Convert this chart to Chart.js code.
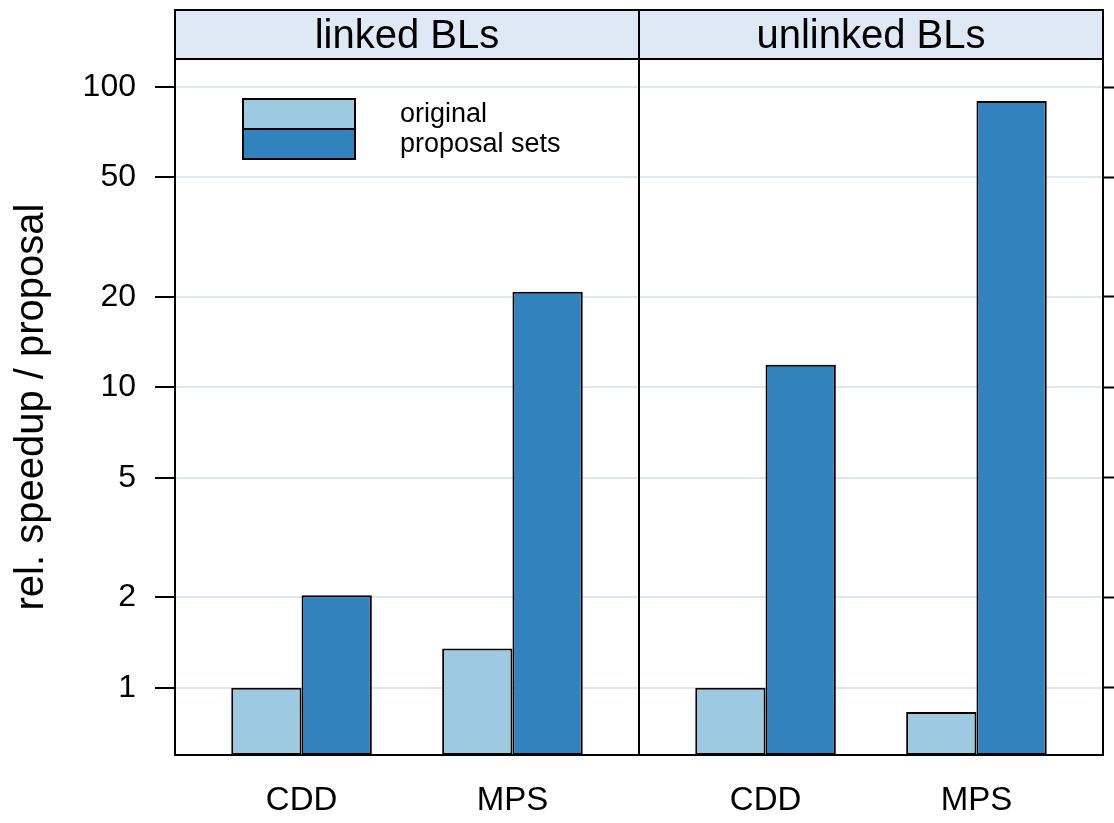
<!DOCTYPE html>
<html>
<head>
<meta charset="utf-8">
<script src="https://cdn.jsdelivr.net/npm/chart.js@4/dist/chart.umd.min.js"></script>
<style>
  html, body { margin: 0; padding: 0; background: #ffffff; }
  #wrap { width: 1114px; height: 823px; }
</style>
</head>
<body>
<div id="wrap"><canvas id="chart" width="1114" height="823"></canvas></div>
<script>
// Panels (strip labels) and categories within each panel
const panels = ['linked BLs', 'unlinked BLs'];
const categories = ['CDD', 'MPS'];
const seriesNames = ['original', 'proposal sets'];

// Relative speedup per proposal
const originalLinked = [1, 1.35];
const proposalLinked = [2.03, 20.8];
const originalUnlinked = [1, 0.83];
const proposalUnlinked = [11.9, 89.9];

// Log-axis tick labels
const yTickValues = [1, 2, 5, 10, 20, 50, 100];

const FONT = '"Liberation Sans", Arial, Helvetica, sans-serif';
const LIGHT = '#9ecae1';
const DARK = '#3182bd';
const STRIP_BG = '#dee9f5';
const GRID = '#dbe7f4';

// Each panel spans 2.2 units on the x axis; categories sit at 1 and 2 inside it
const PANEL_SPAN = 2.2;
const slot = (p, c) => p * PANEL_SPAN + c + 1;
const X_MIN = 0.4;
const X_MAX = X_MIN + PANEL_SPAN * panels.length;

function toPoints(perPanel) {
  const pts = [];
  perPanel.forEach((vals, p) => vals.forEach((v, c) => pts.push({ x: slot(p, c), y: v })));
  return pts;
}

const xPositions = [];
const xLabels = [];
panels.forEach((_, p) => categories.forEach((name, c) => { xPositions.push(slot(p, c)); xLabels.push(name); }));

// Strips, panel frames and the key
const latticeDecor = {
  id: 'latticeDecor',
  afterDatasetsDraw(chart) {
    const { ctx, chartArea: a, scales: { x } } = chart;
    const stripTop = a.top - 49;
    ctx.save();
    ctx.lineWidth = 2;
    ctx.strokeStyle = '#000';
    panels.forEach((name, p) => {
      const l = x.getPixelForValue(X_MIN + p * PANEL_SPAN);
      const r = x.getPixelForValue(X_MIN + (p + 1) * PANEL_SPAN);
      ctx.fillStyle = STRIP_BG;
      ctx.fillRect(l, stripTop, r - l, a.top - stripTop);
      ctx.strokeRect(l, stripTop, r - l, a.top - stripTop);
      ctx.strokeRect(l, a.top, r - l, a.bottom - a.top);
      ctx.fillStyle = '#000';
      ctx.font = '40px ' + FONT;
      ctx.textAlign = 'center';
      ctx.textBaseline = 'alphabetic';
      ctx.fillText(name, (l + r) / 2, stripTop + 38);
    });

    // key inside the first panel
    const kx = a.left + 68, ky = a.top + 40, kw = 112, kh = 30;
    chart.data.datasets.forEach((ds, i) => {
      ctx.fillStyle = ds.backgroundColor;
      ctx.fillRect(kx, ky + i * kh, kw, kh);
      ctx.strokeRect(kx, ky + i * kh, kw, kh);
      ctx.fillStyle = '#000';
      ctx.font = '27px ' + FONT;
      ctx.textAlign = 'left';
      ctx.textBaseline = 'alphabetic';
      ctx.fillText(ds.label, kx + 157, ky + 23 + i * kh);
    });
    ctx.restore();
  }
};

new Chart(document.getElementById('chart'), {
  type: 'bar',
  data: {
    datasets: [
      {
        label: seriesNames[0],
        data: toPoints([originalLinked, originalUnlinked]),
        backgroundColor: LIGHT,
        borderColor: '#000',
        borderWidth: 2,
        borderSkipped: false,
        categoryPercentage: 2 / 3,
        barPercentage: 1
      },
      {
        label: seriesNames[1],
        data: toPoints([proposalLinked, proposalUnlinked]),
        backgroundColor: DARK,
        borderColor: '#000',
        borderWidth: 2,
        borderSkipped: false,
        categoryPercentage: 2 / 3,
        barPercentage: 1
      }
    ]
  },
  options: {
    responsive: false,
    animation: false,
    devicePixelRatio: 1,
    layout: { padding: { top: 59, left: 0, right: 0, bottom: 0 } },
    plugins: {
      legend: { display: false },
      tooltip: { enabled: false }
    },
    scales: {
      x: {
        type: 'linear',
        offset: false,
        min: X_MIN,
        max: X_MAX,
        afterBuildTicks(scale) { scale.ticks = xPositions.map(v => ({ value: v })); },
        afterFit(scale) { scale.height = 823 - 755; },
        grid: { display: false, drawTicks: false, offset: false },
        border: { display: false },
        ticks: {
          padding: 26,
          color: '#000',
          font: { family: FONT, size: 33 },
          maxRotation: 0,
          autoSkip: false,
          callback: (v, i) => xLabels[i]
        }
      },
      y: {
        type: 'logarithmic',
        position: 'left',
        min: 0.597,
        max: 124,
        afterBuildTicks(scale) { scale.ticks = yTickValues.map(v => ({ value: v })); },
        afterFit(scale) { scale.width = 175; },
        grid: {
          color: GRID,
          lineWidth: 2,
          drawTicks: true,
          tickLength: 20,
          tickColor: '#000',
          tickWidth: 2
        },
        border: { display: false },
        ticks: {
          padding: 19,
          color: '#000',
          font: { family: FONT, size: 32 },
          autoSkip: false,
          callback: v => String(v)
        },
        title: {
          display: true,
          text: 'rel. speedup / proposal',
          color: '#000',
          font: { family: FONT, size: 40 },
          padding: { top: 8, bottom: 0 }
        }
      },
      y2: {
        type: 'logarithmic',
        position: 'right',
        min: 0.597,
        max: 124,
        afterBuildTicks(scale) { scale.ticks = yTickValues.map(v => ({ value: v })); },
        afterFit(scale) { scale.width = 1114 - 1103; },
        grid: {
          drawOnChartArea: false,
          drawTicks: true,
          tickLength: 11,
          tickColor: '#000',
          tickWidth: 2
        },
        border: { display: false },
        ticks: { display: true, padding: 0, font: { size: 1 }, callback: () => '' }
      }
    }
  },
  plugins: [latticeDecor]
});
</script>
</body>
</html>
